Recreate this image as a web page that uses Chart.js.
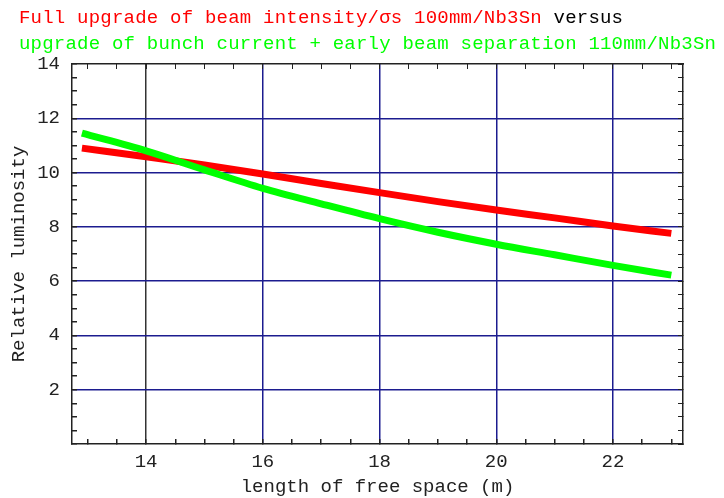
<!DOCTYPE html>
<html lang="en">
<head>
    <meta charset="UTF-8">
    <title>Relative luminosity vs length of free space</title>
    <script src="https://cdn.jsdelivr.net/npm/chart.js"></script>
    <style>
        body {
            margin: 0;
            padding: 0;
            background-color: #fff;
        }

        .wrap {
            width: 724px;
            height: 498px;
            position: relative;
        }
    </style>
</head>
<body>
    <div class="wrap">
        <canvas id="lumiChart"></canvas>
    </div>

    <script>
        // length of free space (m)
        const freeSpace = [12.9, 14, 15, 16, 17, 18, 19, 20, 21, 22, 23];
        // full upgrade of beam intensity, 100mm Nb3Sn
        const fullUpgrade = [10.9, 10.58, 10.28, 9.95, 9.6, 9.26, 8.93, 8.62, 8.33, 8.03, 7.76];
        // bunch current upgrade + early separation, 110mm Nb3Sn
        const bunchUpgrade = [11.45, 10.8, 10.1, 9.42, 8.85, 8.3, 7.8, 7.36, 6.97, 6.58, 6.22];

        const xTickLabels = [14, 16, 18, 20, 22];
        const yTickLabels = [2, 4, 6, 8, 10, 12, 14];

        const titleLines = [
            [{ text: 'Full upgrade of beam intensity/σs 100mm/Nb3Sn ', color: '#ff0000' },
             { text: 'versus', color: '#000000' }],
            [{ text: 'upgrade of bunch current + early beam separation 110mm/Nb3Sn', color: '#00ff00' }]
        ];

        const X_MIN = 12.73, X_MAX = 23.2;
        const NAVY = '#1c1c8f';
        const MONO = '"Liberation Mono", "DejaVu Sans Mono", monospace';

        function pts(ys) {
            return freeSpace.map((x, i) => ({ x: x, y: ys[i] }));
        }

        // two-colour header, laid out on a fixed character grid
        const headerPlugin = {
            id: 'header',
            afterDraw(chart) {
                const ctx = chart.ctx;
                const adv = 11.62;
                ctx.save();
                ctx.font = '19px ' + MONO;
                ctx.textBaseline = 'alphabetic';
                ctx.textAlign = 'left';
                const baselines = [23, 49];
                titleLines.forEach((parts, i) => {
                    let col = 0;
                    parts.forEach(p => {
                        ctx.fillStyle = p.color;
                        for (const ch of p.text) {
                            ctx.fillText(ch, 19 + col * adv, baselines[i]);
                            col++;
                        }
                    });
                });
                ctx.restore();
            }
        };

        const bgPlugin = {
            id: 'bg',
            beforeDraw(chart) {
                const ctx = chart.ctx;
                ctx.save();
                ctx.fillStyle = '#fff';
                ctx.fillRect(0, 0, chart.width, chart.height);
                ctx.restore();
            }
        };

        new Chart(document.getElementById('lumiChart'), {
            type: 'line',
            data: {
                datasets: [
                    {
                        label: 'Full upgrade of beam intensity',
                        data: pts(fullUpgrade),
                        borderColor: '#ff0000',
                        borderWidth: 7,
                        pointRadius: 0,
                        cubicInterpolationMode: 'monotone',
                        order: 1
                    },
                    {
                        label: 'upgrade of bunch current + early beam separation',
                        data: pts(bunchUpgrade),
                        borderColor: '#00ff00',
                        borderWidth: 7,
                        pointRadius: 0,
                        cubicInterpolationMode: 'monotone',
                        order: 0
                    }
                ]
            },
            options: {
                responsive: true,
                maintainAspectRatio: false,
                animation: false,
                layout: { padding: { top: 64, right: 41, left: 0, bottom: 0 } },
                plugins: {
                    legend: { display: false },
                    tooltip: { enabled: false }
                },
                scales: {
                    x: {
                        type: 'linear',
                        position: 'bottom',
                        min: X_MIN,
                        max: X_MAX,
                        afterFit(scale) { scale.height = 54; },
                        ticks: {
                            stepSize: 0.5,
                            includeBounds: false,
                            autoSkip: false,
                            maxRotation: 0,
                            padding: 12,
                            color: '#222',
                            font: { family: MONO, size: 19 },
                            callback: v => xTickLabels.includes(v) ? String(v) : ''
                        },
                        grid: {
                            tickLength: -5,
                            tickColor: '#222',
                            lineWidth: 1.5,
                            color: ctx => {
                                const v = ctx.tick && ctx.tick.value;
                                if (v === 14) return '#333';
                                return xTickLabels.includes(v) ? NAVY : 'rgba(0,0,0,0)';
                            }
                        },
                        border: { color: '#222', width: 1.5 },
                        title: {
                            display: true,
                            text: 'length of free space (m)',
                            color: '#222',
                            font: { family: MONO, size: 19 },
                            padding: { top: 0, bottom: 0 }
                        }
                    },
                    y: {
                        type: 'linear',
                        position: 'left',
                        min: 0,
                        max: 14,
                        afterFit(scale) { scale.width = 72; },
                        ticks: {
                            stepSize: 0.5,
                            autoSkip: false,
                            padding: 17,
                            color: '#222',
                            font: { family: MONO, size: 19 },
                            callback: v => yTickLabels.includes(v) ? String(v) : ''
                        },
                        grid: {
                            tickLength: -5,
                            tickColor: '#222',
                            lineWidth: 1.5,
                            color: ctx => {
                                const v = ctx.tick && ctx.tick.value;
                                return (v > 0 && v < 14 && v % 2 === 0) ? NAVY : 'rgba(0,0,0,0)';
                            }
                        },
                        border: { color: '#222', width: 1.5 },
                        title: {
                            display: true,
                            text: 'Relative luminosity',
                            color: '#222',
                            font: { family: MONO, size: 19 },
                            padding: { top: 8, bottom: 0 }
                        }
                    },
                    xTop: {
                        type: 'linear',
                        position: 'top',
                        min: X_MIN,
                        max: X_MAX,
                        afterFit(scale) { scale.height = 0; },
                        ticks: { display: false, stepSize: 0.5, includeBounds: false },
                        grid: { drawOnChartArea: false, tickLength: -5, color: '#222' },
                        border: { color: '#222', width: 1.5 }
                    },
                    yRight: {
                        type: 'linear',
                        position: 'right',
                        min: 0,
                        max: 14,
                        afterFit(scale) { scale.width = 0; },
                        ticks: { display: false, stepSize: 0.5 },
                        grid: { drawOnChartArea: false, tickLength: -5, color: '#222' },
                        border: { color: '#222', width: 1.5 }
                    }
                }
            },
            plugins: [bgPlugin, headerPlugin]
        });
    </script>
</body>
</html>
